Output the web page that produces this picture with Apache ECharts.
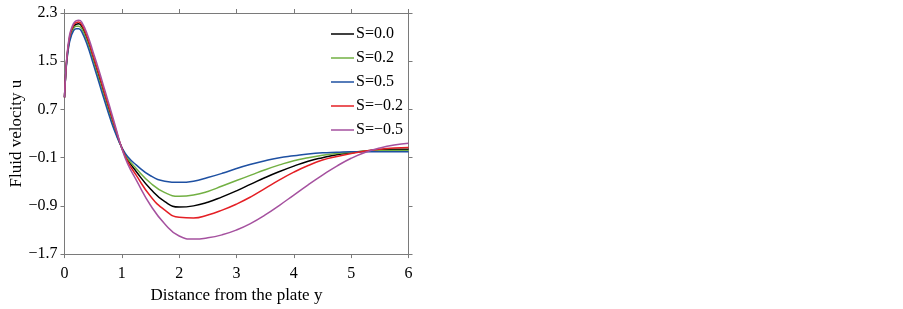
<!DOCTYPE html>
<html>
<head>
<meta charset="utf-8">
<script src="https://cdn.jsdelivr.net/npm/echarts@6/dist/echarts.min.js"></script>
<style>
html,body{margin:0;padding:0;background:#fff;}
#chart{width:903px;height:309px;}
</style>
</head>
<body>
<div id="chart"></div>
<script>
// distance from the plate (y)
var yPos = [0, 0.025, 0.05, 0.075, 0.1, 0.15, 0.2, 0.25, 0.3, 0.4, 0.5, 0.6, 0.7, 0.8, 0.9, 1.0, 1.1,
	1.25, 1.5, 1.75, 2.0, 2.25, 2.5, 2.75, 3.0, 3.25, 3.5, 3.75, 4.0, 4.25, 4.5, 4.75, 5.0, 5.25, 5.5, 5.75, 6.0];

var seriesNames = ['S=0.0', 'S=0.2', 'S=0.5', 'S=\u22120.2', 'S=\u22120.5'];
var seriesColors = ['#000000', '#72b043', '#1e50a2', '#e41f25', '#a5519f'];

var uS00 = [0.9, 1.35, 1.62, 1.80, 1.92, 2.05, 2.11, 2.12, 2.08, 1.85, 1.55, 1.25, 0.93, 0.62, 0.33, 0.06, -0.13,
	-0.33, -0.62, -0.83, -0.92, -0.90, -0.84, -0.75, -0.65, -0.54, -0.43, -0.33, -0.24, -0.16, -0.10, -0.05, -0.02, 0.01, 0.03, 0.04, 0.04];
var uS02 = [0.9, 1.34, 1.60, 1.78, 1.89, 2.02, 2.08, 2.08, 2.04, 1.81, 1.51, 1.20, 0.89, 0.58, 0.30, 0.06, -0.11,
	-0.28, -0.52, -0.68, -0.74, -0.72, -0.66, -0.57, -0.48, -0.39, -0.30, -0.22, -0.15, -0.10, -0.06, -0.03, -0.01, 0.01, 0.02, 0.02, 0.02];
var uS05 = [0.9, 1.33, 1.58, 1.75, 1.86, 1.99, 2.04, 2.04, 1.99, 1.76, 1.46, 1.15, 0.84, 0.54, 0.28, 0.07, -0.08,
	-0.22, -0.40, -0.49, -0.51, -0.49, -0.43, -0.36, -0.28, -0.21, -0.15, -0.10, -0.07, -0.04, -0.02, -0.01, 0.00, 0.00, 0.00, 0.00, 0.00];
var uSm02 = [0.9, 1.36, 1.64, 1.82, 1.95, 2.08, 2.14, 2.15, 2.11, 1.89, 1.59, 1.29, 0.97, 0.66, 0.35, 0.06, -0.16,
	-0.39, -0.74, -0.97, -1.09, -1.10, -1.05, -0.97, -0.87, -0.75, -0.61, -0.47, -0.34, -0.23, -0.14, -0.08, -0.03, 0.01, 0.04, 0.06, 0.07];
var uSm05 = [0.9, 1.37, 1.66, 1.85, 1.98, 2.11, 2.17, 2.18, 2.15, 1.94, 1.65, 1.35, 1.03, 0.71, 0.38, 0.05, -0.20,
	-0.47, -0.89, -1.20, -1.40, -1.45, -1.43, -1.38, -1.30, -1.19, -1.05, -0.89, -0.72, -0.55, -0.39, -0.24, -0.11, -0.01, 0.06, 0.11, 0.14];

var yTicks = [-1.7, -0.9, -0.1, 0.7, 1.5, 2.3];

var allU = [uS00, uS02, uS05, uSm02, uSm05];

function pairs(u){
	var out = [];
	for(var i=0;i<yPos.length;i++){
		out.push([yPos[i], u[i]]);
	}
	return out;
}

function fmtY(v){
	return v.toFixed(1).replace('-', '\u2212');
}

var font = 'Liberation Serif';
var axisGrey = '#7a7a7a';

var series = [];
for(var k=0;k<allU.length;k++){
	series.push({
		name: seriesNames[k],
		type: 'line',
		smooth: 0.5,
		symbol: 'none',
		data: pairs(allU[k]),
		lineStyle: {color: seriesColors[k], width: 1.5},
		itemStyle: {color: seriesColors[k]}
	});
}

var myChart = echarts.init(document.getElementById('chart'), null, {renderer: 'canvas'});
var option = {
	animation: false,
	backgroundColor: '#ffffff',
	textStyle: {fontFamily: font},
	grid: {left: 64.5, right: 494.5, top: 13, bottom: 51, containLabel: false},
	legend: {
		orient: 'vertical',
		left: 331,
		top: 22,
		padding: 0,
		icon: 'rect',
		itemWidth: 23,
		itemHeight: 1.5,
		itemGap: 0,
		data: seriesNames,
		textStyle: {fontFamily: font, fontSize: 16, color: '#000', lineHeight: 24, padding: [0, 0, 0, -3]}
	},
	xAxis: [{
		type: 'value',
		min: 0, max: 6, interval: 1,
		name: 'Distance from the plate y',
		nameLocation: 'middle',
		nameGap: 29,
		nameTextStyle: {fontFamily: font, fontSize: 17, color: '#000'},
		axisLine: {show: true, onZero: false, lineStyle: {color: axisGrey, width: 1}},
		axisTick: {show: true, length: 4, lineStyle: {color: axisGrey}},
		axisLabel: {fontFamily: font, fontSize: 16, color: '#000', margin: 12},
		splitLine: {show: false}
	}, {
		type: 'value',
		position: 'top',
		min: 0, max: 6, interval: 1,
		axisLine: {show: true, onZero: false, lineStyle: {color: axisGrey, width: 1}},
		axisTick: {show: true, length: 4, lineStyle: {color: axisGrey}},
		axisLabel: {show: false},
		splitLine: {show: false}
	}],
	yAxis: [{
		type: 'value',
		min: -1.7, max: 2.3,
		name: 'Fluid velocity u',
		nameLocation: 'middle',
		nameGap: 35,
		nameTextStyle: {fontFamily: font, fontSize: 17, color: '#000'},
		axisLine: {show: true, onZero: false, lineStyle: {color: axisGrey, width: 1}},
		axisTick: {show: true, length: 4, customValues: yTicks, lineStyle: {color: axisGrey}},
		axisLabel: {fontFamily: font, fontSize: 16, color: '#000', margin: 7, customValues: yTicks, formatter: fmtY},
		splitLine: {show: false}
	}, {
		type: 'value',
		position: 'right',
		min: -1.7, max: 2.3,
		axisLine: {show: true, onZero: false, lineStyle: {color: axisGrey, width: 1}},
		axisTick: {show: true, length: 4, customValues: yTicks, lineStyle: {color: axisGrey}},
		axisLabel: {show: false, customValues: yTicks},
		splitLine: {show: false}
	}],
	series: series
};
myChart.setOption(option);
</script>
</body>
</html>
